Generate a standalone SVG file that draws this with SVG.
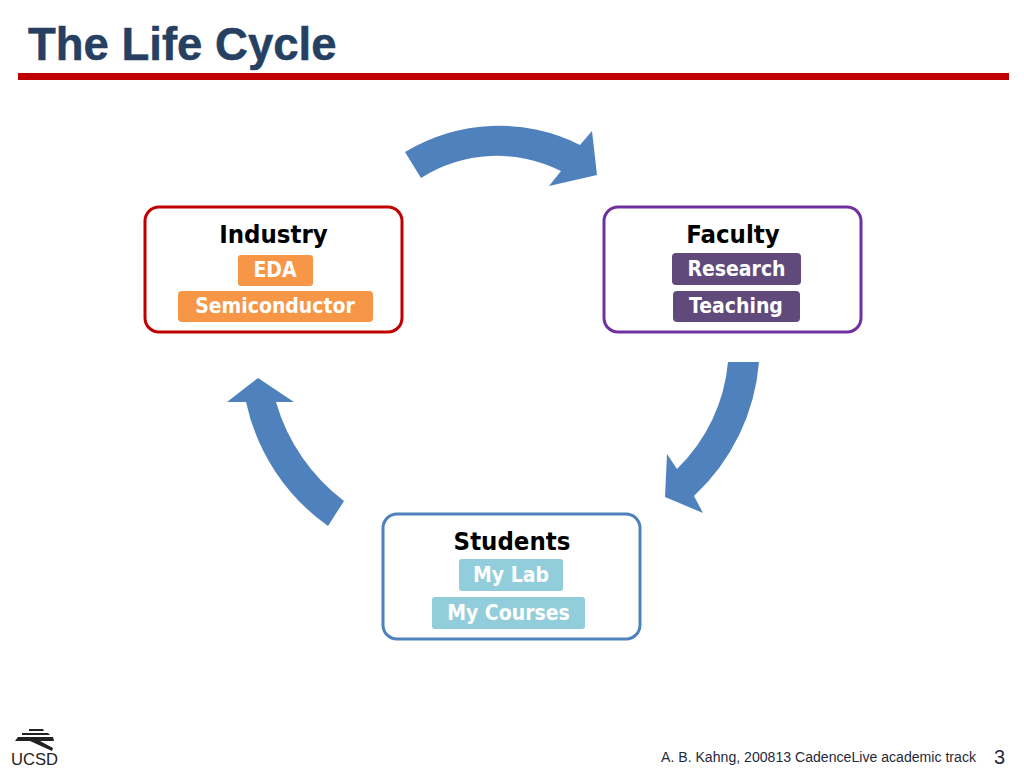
<svg xmlns="http://www.w3.org/2000/svg" width="1024" height="768" viewBox="0 0 1024 768">
<style>
.card{fill:#fff;stroke-width:3}
.title{font:700 25.500px "DejaVu Sans Condensed","DejaVu Sans",sans-serif;fill:#000;text-anchor:middle;font-stretch:condensed}
.tag{font:700 21px "DejaVu Sans Condensed","DejaVu Sans",sans-serif;fill:#fff;text-anchor:middle;font-stretch:condensed}
.arrow{fill:#4f81bd}
.orange{fill:#f79646}.purple{fill:#604a7b}.cyan{fill:#92cddc}
</style>
<rect width="1024" height="768" fill="#fff"/>
<text x="28" y="60" font-family="Liberation Sans,Arial,sans-serif" font-weight="700" font-size="45.500" fill="#254061" stroke="#254061" stroke-width="0.500">The Life Cycle</text>
<rect x="18" y="73" width="991" height="7" fill="#c00000"/>
<g id="connectors">
<path class="arrow" d="M405 152A181 181 0 0 1 580 145L592 131L597 175L549 186L561 171A142 142 0 0 0 421 178Z"/>
<path class="arrow" d="M728 362H759A205 205 0 0 1 694 496L703 513L665 497L667 454L677 469A170 170 0 0 0 728 362Z"/>
<path class="arrow" d="M258 378L294 402H276A190 190 0 0 0 344 501L328 526A205 205 0 0 1 246 402H227Z"/>
</g>
<g id="industry">
<rect class="card" x="145" y="207" width="257" height="125" rx="14" stroke="#c00000"/>
<text class="title" x="273.500" y="242.500">Industry</text>
<rect class="orange" x="238" y="255" width="75" height="31" rx="3"/>
<text class="tag" x="275" y="277">EDA</text>
<rect class="orange" x="178" y="291" width="195" height="31" rx="4"/>
<text class="tag" x="275" y="313">Semiconductor</text>
</g>
<g id="faculty">
<rect class="card" x="604" y="207" width="257" height="125" rx="14" stroke="#7030a0"/>
<text class="title" x="733" y="242.500">Faculty</text>
<rect class="purple" x="672" y="253" width="129" height="32" rx="4"/>
<text class="tag" x="736.500" y="276">Research</text>
<rect class="purple" x="673" y="291" width="127" height="31" rx="4"/>
<text class="tag" x="736" y="313">Teaching</text>
</g>
<g id="students">
<rect class="card" x="383" y="514" width="257" height="125" rx="14" stroke="#4f81bd"/>
<text class="title" x="512" y="549.500">Students</text>
<rect class="cyan" x="459" y="559" width="104" height="32" rx="3"/>
<text class="tag" x="511" y="582">My Lab</text>
<rect class="cyan" x="432" y="597" width="153" height="32" rx="3"/>
<text class="tag" x="508.500" y="620">My Courses</text>
</g>
<g id="logo" fill="#222">
<path d="M29 729H43L44 731H29Z M22 733H48L50 735H22Z M18 737H53L54 741H40L53 748L52 751L30 741H15Z"/>
<text x="11" y="765" font-family="Liberation Sans,sans-serif" font-size="17" textLength="47" lengthAdjust="spacingAndGlyphs">UCSD</text>
</g>
<text x="661" y="762" font-family="Liberation Sans,Arial,sans-serif" font-size="14" fill="#1f2a3a" textLength="315" lengthAdjust="spacingAndGlyphs">A. B. Kahng, 200813 CadenceLive academic track</text>
<text x="994" y="764" font-family="Liberation Sans,Arial,sans-serif" font-size="20" fill="#1f2a3a">3</text>
</svg>
